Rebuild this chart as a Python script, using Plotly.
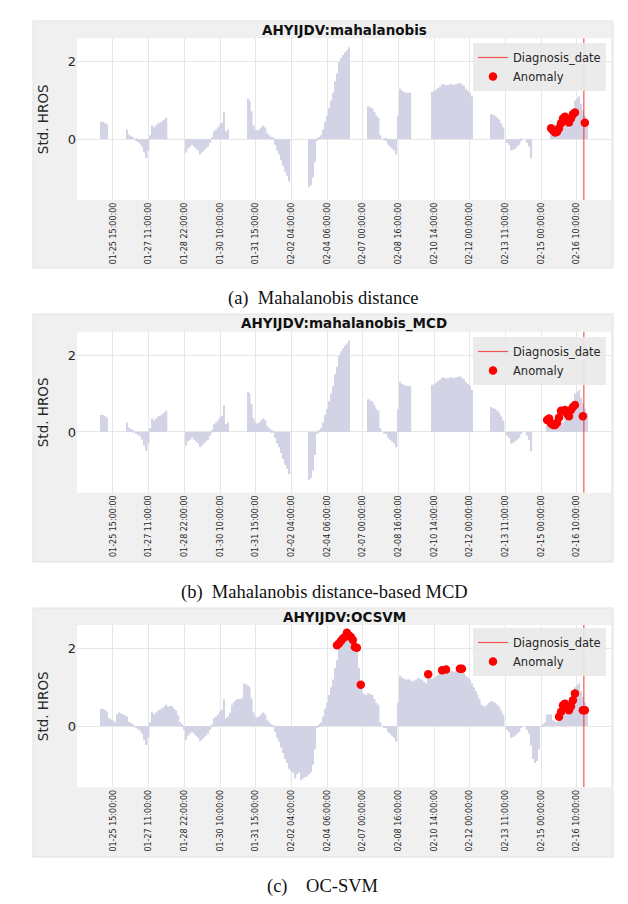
import plotly.graph_objects as go

# page is 628x904; the html body adds an 8 px margin, so the figure is 620x888
PAGE_W, PAGE_H = 628, 904
OFF = 8
W, H = PAGE_W - OFF, PAGE_H - 2 * OFF

# ---------------- data ----------------
# standardised HROS series, one value per sample (index 0..245)
HROS = [
    0.45, 0.44, 0.42, 0.38, 0.20, 0.17, 0.15, 0.10, 0.30, 0.35,
    0.33, 0.30, 0.28, 0.25, 0.12, 0.08, 0.05, 0.00, -0.05, -0.08,
    -0.12, -0.20, -0.35, -0.49, -0.30, 0.10, 0.35, 0.30, 0.35, 0.40,
    0.43, 0.46, 0.50, 0.55, 0.50, 0.52, 0.52, 0.45, 0.40, 0.28,
    0.10, 0.05, -0.10, -0.35, -0.25, -0.20, -0.15, -0.20, -0.25, -0.30,
    -0.40, -0.35, -0.30, -0.25, -0.20, -0.10, 0.05, 0.20, 0.25, 0.30,
    0.38, 0.42, 0.69, 0.20, 0.25, 0.35, 0.55, 0.62, 0.68, 0.70,
    0.70, 0.72, 1.10, 1.08, 1.05, 1.00, 0.72, 0.35, 0.25, 0.22,
    0.25, 0.30, 0.35, 0.30, 0.15, 0.10, 0.05, 0.03, -0.15, -0.30,
    -0.40, -0.55, -0.70, -0.85, -0.95, -1.10, -1.15, -1.20, -1.35, -1.25,
    -1.20, -1.40, -1.35, -1.32, -1.30, -1.25, -1.20, -1.00, -0.60, -0.05,
    0.05, 0.10, 0.25, 0.45, 0.60, 0.80, 1.00, 1.20, 1.50, 1.70,
    2.00, 2.10, 2.18, 2.25, 2.30, 2.38, 2.33, 2.22, 2.10, 2.02,
    1.50, 1.10, 0.85, 0.82, 0.80, 0.85, 0.82, 0.80, 0.70, 0.60,
    0.55, 0.10, 0.00, -0.03, -0.05, -0.15, -0.20, -0.25, -0.30, -0.40,
    0.60, 1.30, 1.25, 1.22, 1.20, 1.20, 1.20, 1.15, 1.18, 1.20,
    1.25, 1.22, 1.20, 1.15, 1.10, 1.30, 1.25, 1.22, 1.25, 1.28,
    1.32, 1.36, 1.42, 1.42, 1.40, 1.40, 1.42, 1.42, 1.40, 1.42,
    1.44, 1.45, 1.42, 1.38, 1.30, 1.25, 1.20, 1.10, 1.00, 0.90,
    0.80, 0.70, 0.55, 0.52, 0.50, 0.55, 0.60, 0.65, 0.62, 0.60,
    0.55, 0.50, 0.40, 0.30, 0.00, -0.10, -0.15, -0.30, -0.28, -0.25,
    -0.20, -0.15, -0.05, 0.00, 0.00, -0.10, -0.20, -0.50, -0.85, -0.95,
    -0.90, -0.60, 0.00, 0.05, 0.10, 0.30, 0.30, 0.30, 0.15, 0.12,
    0.10, 0.15, 0.20, 0.25, 0.40, 0.35, 0.30, 0.40, 0.50, 1.00,
    1.05, 1.10, 0.90, 0.75, 0.60, 0.50,
]

TICK_IDX = [6, 24, 42, 60, 78, 96, 114, 132, 150, 168, 186, 204, 222, 240]
TICK_LABELS = [
    "01-25 15:00:00", "01-27 11:00:00", "01-28 22:00:00", "01-30 10:00:00",
    "01-31 15:00:00", "02-02 04:00:00", "02-04 06:00:00", "02-07 00:00:00",
    "02-08 16:00:00", "02-10 14:00:00", "02-12 00:00:00", "02-13 11:00:00",
    "02-15 00:00:00", "02-16 10:00:00",
]
DIAGNOSIS_IDX = 243.5

# sample windows without a bar in panels (a) and (b)
GAP_START_A = [4, 34, 65, 96, 126, 157, 188, 218]
GAP_END_A = [12, 42, 73, 104, 134, 166, 196, 226]
GAP_START_B = [4, 34, 65, 96, 126, 157, 188, 218]
GAP_END_B = [12, 42, 73, 104, 134, 166, 196, 224]

ANOM_A_X = [227, 228, 229, 230, 231, 232, 233, 234, 235, 236, 237, 238, 239, 244]
ANOM_A_Y = [0.28, 0.22, 0.17, 0.19, 0.28, 0.41, 0.53, 0.58, 0.49, 0.43, 0.53, 0.64, 0.69, 0.42]

ANOM_B_X = [225, 226, 227, 228, 229, 230, 231, 232, 234, 235, 236, 237, 238, 239, 243]
ANOM_B_Y = [0.31, 0.35, 0.22, 0.18, 0.18, 0.24, 0.38, 0.55, 0.57, 0.48, 0.41, 0.57, 0.65, 0.70, 0.41]

ANOM_C_X = [119, 120, 121, 122, 123, 124, 125, 126, 127, 128, 129, 131,
            165, 172, 174, 181, 182,
            231, 232, 233, 234, 235, 236, 237, 238, 239, 243, 244]
ANOM_C_Y = [2.09, 2.13, 2.20, 2.26, 2.30, 2.41, 2.34, 2.30, 2.22, 2.04, 2.02, 1.07,
            1.34, 1.44, 1.46, 1.48, 1.48,
            0.24, 0.37, 0.54, 0.58, 0.48, 0.41, 0.51, 0.67, 0.84, 0.41, 0.41]

TITLES = ["AHYIJDV:mahalanobis", "AHYIJDV:mahalanobis_MCD", "AHYIJDV:OCSVM"]
CAPTIONS = ["(a)\u00a0\u00a0Mahalanobis distance",
            "(b)\u00a0\u00a0Mahalanobis distance-based MCD",
            "(c)\u00a0\u00a0\u00a0\u00a0OC-SVM"]
Y_LABEL = "Std. HROS"
Y_RANGE = [-1.58, 2.61]
X_RANGE = [-12.15, 257.2]

# ---------------- helpers (page pixels -> paper) ----------------
def fx(px):
    return (px - OFF) / W

def fy(py):
    return 1 - (py - OFF) / H

def masked(values, starts, ends):
    out = []
    for i, v in enumerate(values):
        hide = any(s <= i <= e for s, e in zip(starts, ends))
        out.append(None if hide else v)
    return out

IDX = list(range(len(HROS)))
series = [
    masked(HROS, GAP_START_A, GAP_END_A),
    masked(HROS, GAP_START_B, GAP_END_B),
    list(HROS),
]
anoms = [(ANOM_A_X, ANOM_A_Y), (ANOM_B_X, ANOM_B_Y), (ANOM_C_X, ANOM_C_Y)]

# geometry of the three panels (page pixels)
BOX = [(21, 268), (314, 562), (608, 857)]
PLOT = [(38.3, 200.0), (331.7, 492.7), (625.0, 787.3)]
TITLE_Y = [30, 323, 617]
CAP_Y = [298, 592, 886]
CAP_X = [323, 324, 322]
LEG_TOP = [43, 337, 628]
PL, PR = 77, 611
BOX_L, BOX_R = 33, 613

BAR_COLOR = "#d3d3e6"
RED = "#ff0000"
FONT = "DejaVu Sans"

fig = go.Figure()
shapes, annotations = [], []

for k in range(3):
    xa = "x" if k == 0 else f"x{k+1}"
    ya = "y" if k == 0 else f"y{k+1}"
    lg = "legend" if k == 0 else f"legend{k+1}"

    fig.add_trace(go.Bar(x=IDX, y=series[k], marker=dict(color=BAR_COLOR, line=dict(width=0)),
                         xaxis=xa, yaxis=ya, showlegend=False, hoverinfo="skip"))
    fig.add_trace(go.Scatter(x=[DIAGNOSIS_IDX, DIAGNOSIS_IDX], y=Y_RANGE, mode="lines",
                             line=dict(color="rgba(238,45,45,0.8)", width=1.2),
                             name="Diagnosis_date", xaxis=xa, yaxis=ya, legend=lg))
    fig.add_trace(go.Scatter(x=anoms[k][0], y=anoms[k][1], mode="markers",
                             marker=dict(color=RED, size=8.5, line=dict(width=0)),
                             name="Anomaly", xaxis=xa, yaxis=ya, legend=lg))

    top, bot = PLOT[k]
    b0, b1 = BOX[k]
    shapes.append(dict(type="rect", xref="paper", yref="paper", layer="below",
                       x0=fx(BOX_L), x1=fx(BOX_R), y0=fy(b1), y1=fy(b0),
                       fillcolor="#f0f0f0", line=dict(color="#e3e3e3", width=1)))
    shapes.append(dict(type="rect", xref="paper", yref="paper", layer="below",
                       x0=fx(PL), x1=fx(PR), y0=fy(bot), y1=fy(top),
                       fillcolor="white", line=dict(width=0)))

    axis_x = dict(domain=[fx(PL), fx(PR)], anchor=ya, range=X_RANGE,
                  tickmode="array", tickvals=TICK_IDX, ticktext=TICK_LABELS,
                  tickangle=-90, tickfont=dict(family=FONT, size=8, color="#262626"),
                  showgrid=True, gridcolor="#e6e6e6", gridwidth=1, zeroline=False,
                  showline=False, ticks="", fixedrange=True)
    axis_y = dict(domain=[fy(bot), fy(top)], anchor=xa, range=Y_RANGE,
                  tickmode="array", tickvals=[0, 2], ticktext=["0", "2"],
                  tickfont=dict(family=FONT, size=13, color="#262626"),
                  showgrid=True, gridcolor="#e6e6e6", gridwidth=1, zeroline=False,
                  showline=False, ticks="", fixedrange=True)
    fig.layout[("xaxis" if k == 0 else f"xaxis{k+1}")] = axis_x
    fig.layout[("yaxis" if k == 0 else f"yaxis{k+1}")] = axis_y

    fig.layout[lg] = dict(x=fx(606), y=fy(LEG_TOP[k]), xanchor="right", yanchor="top",
                          bgcolor="rgba(233,233,233,0.92)", borderwidth=0,
                          font=dict(family=FONT, size=11.5, color="#262626"),
                          tracegroupgap=0)

    annotations.append(dict(text=f"<b>{TITLES[k]}</b>", xref="paper", yref="paper",
                            x=fx((PL + PR) / 2), y=fy(TITLE_Y[k]), showarrow=False,
                            xanchor="center", yanchor="middle",
                            font=dict(family=FONT, size=13.5, color="#111111")))
    annotations.append(dict(text=Y_LABEL, xref="paper", yref="paper", textangle=-90,
                            x=fx(43), y=fy((top + bot) / 2), showarrow=False,
                            xanchor="center", yanchor="middle",
                            font=dict(family=FONT, size=13.5, color="#262626")))
    annotations.append(dict(text=CAPTIONS[k], xref="paper", yref="paper",
                            x=fx(CAP_X[k]), y=fy(CAP_Y[k]), showarrow=False,
                            xanchor="center", yanchor="middle",
                            font=dict(family="Liberation Serif", size=18.5, color="#111111")))

fig.update_layout(width=W, height=H, margin=dict(l=0, r=0, t=0, b=0),
                  paper_bgcolor="white", plot_bgcolor="white",
                  bargap=0.2, shapes=shapes, annotations=annotations,
                  hovermode=False)

fig.write_html("out.html", config={"displayModeBar": False})
